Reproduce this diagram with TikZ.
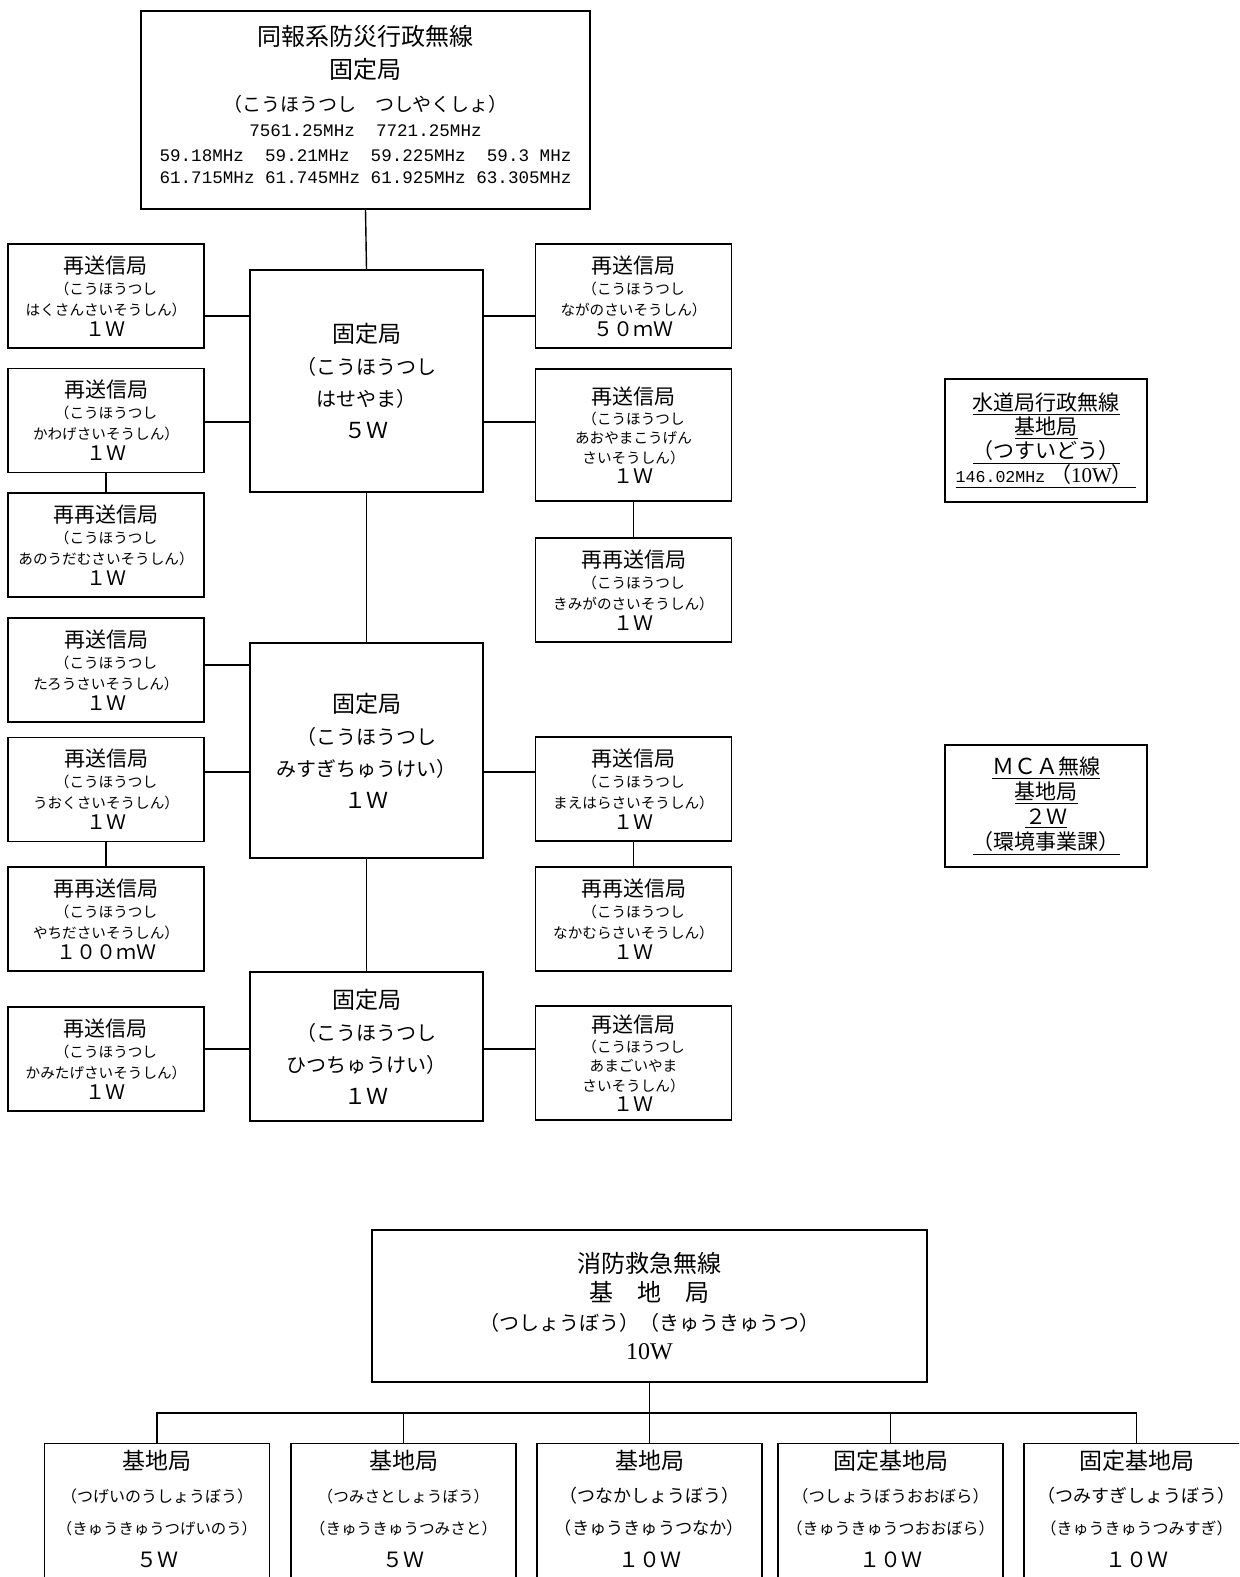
\documentclass[tikz,border=0pt]{standalone}
\usepackage{fontspec}
\setmainfont{Liberation Serif}
\newfontfamily\jp{Noto Sans CJK JP}
\newfontfamily\mono{Liberation Mono}
\usetikzlibrary{positioning, calc}

\newcommand{\fs}[1]{\fontsize{#1}{#1}\selectfont}
\newcommand{\ttl}[1]{{\fs{10.5}#1}}
\newcommand{\pw}[1]{{\fs{10}#1}}

\tikzset{
  stn/.style={draw, line width=0.7pt, align=center, inner sep=0pt},
  relay/.style={stn, minimum width=98pt, minimum height=52pt, font=\jp\fontsize{7.3}{10.5}\selectfont},
  relayfive/.style={relay, font=\jp\fontsize{7.3}{9.8}\selectfont},
  hub/.style={stn, minimum width=116.5pt, font=\jp\fontsize{10}{16}\selectfont},
  ubox/.style={stn, minimum width=101pt, minimum height=61.5pt, font=\jp\fontsize{10.5}{12}\selectfont},
  fbox/.style={stn, minimum width=112.5pt, minimum height=90pt, anchor=north},
  ftext/.style={align=center, inner sep=0pt, font=\jp\fontsize{8}{16.3}\selectfont},
  link/.style={line width=0.7pt},
}

\begin{document}
\begin{tikzpicture}[x=0.5pt, y=-0.5pt]
\useasboundingbox (0,0) rectangle (1239,1577);
\clip (0,0) rectangle (1239,1577);
\fill[white] (0,0) rectangle (1239,1577);

% --- 同報系 ---
\node[stn, minimum width=224.5pt, minimum height=99pt, font=\jp\fontsize{9.5}{12.5}\selectfont] (doho) at (365.5,110)
  {{\fs{12}同報系防災行政無線}\\[4pt]
   {\fs{12}固定局}\\[4pt]
   （こうほうつし　つしやくしょ）\\
   {\mono\fs{8.8}7561.25MHz\ \ 7721.25MHz}\\
   {\mono\fs{8.8}59.18MHz\ \ 59.21MHz\ \ 59.225MHz\ \ 59.3 MHz}\\[-1.5pt]
   {\mono\fs{8.8}61.715MHz 61.745MHz 61.925MHz 63.305MHz}\\[-6.5pt]\mbox{}};

\node[hub, minimum height=111pt] (hasse) at (366.5,381)
  {{\fs{11.5}固定局}\\（こうほうつし\\はせやま）\\{\fs{11}５Ｗ}};
\node[hub, minimum height=107.5pt] (misugi) at (366.5,750.5)
  {{\fs{11.5}固定局}\\（こうほうつし\\みすぎちゅうけい）\\{\fs{11}１Ｗ}};
\node[hub, minimum height=74.5pt] (hitsu) at (366.5,1046.5)
  {{\fs{11.5}固定局}\\（こうほうつし\\ひつちゅうけい）\\{\fs{11}１Ｗ}};

% left column
\node[relay] (hakusan) at (106,296) {\ttl{再送信局}\\（こうほうつし\\はくさんさいそうしん）\\\pw{１Ｗ}};
\node[relay] (kawage) at (106,420.5) {\ttl{再送信局}\\（こうほうつし\\かわげさいそうしん）\\\pw{１Ｗ}};
\node[relay] (anouda) at (106,545) {\ttl{再再送信局}\\（こうほうつし\\あのうだむさいそうしん）\\\pw{１Ｗ}};
\node[relay] (tarou) at (106,670) {\ttl{再送信局}\\（こうほうつし\\たろうさいそうしん）\\\pw{１Ｗ}};
\node[relay] (uoku) at (106,789.5) {\ttl{再送信局}\\（こうほうつし\\うおくさいそうしん）\\\pw{１Ｗ}};
\node[relay] (yachida) at (106,919) {\ttl{再再送信局}\\（こうほうつし\\やちださいそうしん）\\\pw{１００ｍＷ}};
\node[relay] (kamitage) at (106,1059) {\ttl{再送信局}\\（こうほうつし\\かみたげさいそうしん）\\\pw{１Ｗ}};

% right column
\node[relay] (nagano) at (633.5,296) {\ttl{再送信局}\\（こうほうつし\\ながのさいそうしん）\\\pw{５０ｍＷ}};
\node[relayfive, minimum height=66pt] (aoyama) at (633.5,435) {\ttl{再送信局}\\（こうほうつし\\あおやまこうげん\\さいそうしん）\\\pw{１Ｗ}};
\node[relay] (kimigano) at (633.5,590) {\ttl{再再送信局}\\（こうほうつし\\きみがのさいそうしん）\\\pw{１Ｗ}};
\node[relay] (maehara) at (633.5,789) {\ttl{再送信局}\\（こうほうつし\\まえはらさいそうしん）\\\pw{１Ｗ}};
\node[relay] (nakamura) at (633.5,919) {\ttl{再再送信局}\\（こうほうつし\\なかむらさいそうしん）\\\pw{１Ｗ}};
\node[relayfive, minimum height=57pt] (amagoi) at (633.5,1063) {\ttl{再送信局}\\（こうほうつし\\あまごいやま\\さいそうしん）\\\pw{１Ｗ}};

% connector levels
\coordinate (l1) at (0,316);
\coordinate (l2) at (0,422);
\coordinate (l3) at (0,665);
\coordinate (l4) at (0,772);
\coordinate (l5) at (0,1049);

\draw[link] (doho.south) -- (hasse.north);
\draw[link] (hasse.south) -- (misugi.north);
\draw[link] (misugi.south) -- (hitsu.north);
\draw[link] (hakusan.east |- l1) -- (hasse.west |- l1);
\draw[link] (kawage.east |- l2) -- (hasse.west |- l2);
\draw[link] (nagano.west |- l1) -- (hasse.east |- l1);
\draw[link] (aoyama.west |- l2) -- (hasse.east |- l2);
\draw[link] (kawage.south) -- (anouda.north);
\draw[link] (aoyama.south) -- (kimigano.north);
\draw[link] (tarou.east |- l3) -- (misugi.west |- l3);
\draw[link] (uoku.east |- l4) -- (misugi.west |- l4);
\draw[link] (maehara.west |- l4) -- (misugi.east |- l4);
\draw[link] (uoku.south) -- (yachida.north);
\draw[link] (maehara.south) -- (nakamura.north);
\draw[link] (kamitage.east |- l5) -- (hitsu.west |- l5);
\draw[link] (amagoi.west |- l5) -- (hitsu.east |- l5);

% 水道局, MCA
\node[ubox] (suidou) at (1046,440.5)
  {\underline{水道局行政無線}\\\underline{基地局}\\\underline{（つすいどう）}\\
   \underline{{\mono\fs{8.3}146.02MHz} （{\rmfamily 10W}）\,}};
\node[ubox, minimum height=61pt, font=\jp\fontsize{10.5}{12.6}\selectfont] (mca) at (1046,806)
  {\underline{{\fs{11}ＭＣＡ}無線}\\\underline{基地局}\\\underline{２Ｗ}\\\underline{（環境事業課）}};

% --- 消防救急 ---
\node[stn, minimum width=277.5pt, minimum height=76pt, font=\jp\fontsize{10}{14.5}\selectfont] (shobo) at (649.5,1306)
  {{\fs{12}消防救急無線}\\{\fs{12}基　地　局}\\（つしょうぼう）（きゅうきゅうつ）\\{\rmfamily\fs{12}10W}};

\node[fbox] (f1) at (157,1443) {};
\node[fbox] (f2) at (403.5,1443) {};
\node[fbox] (f3) at (649.5,1443) {};
\node[fbox] (f4) at (890.5,1443) {};
\node[fbox] (f5) at (1136.5,1443) {};

\node[ftext, below=3.5pt of f1.north] (f1t)
  {{\fs{11.5}基地局}\\（つげいのうしょうぼう）\\{\fs{7.7}（きゅうきゅうつげいのう）}\\{\fs{10.5}５Ｗ}};
\node[ftext, below=3.5pt of f2.north] (f2t)
  {{\fs{11.5}基地局}\\{\fs{7.8}（つみさとしょうぼう）}\\{\fs{7.8}（きゅうきゅうつみさと）}\\{\fs{10.5}５Ｗ}};
\node[ftext, below=3.5pt of f3.north] (f3t)
  {{\fs{11.5}基地局}\\{\fs{9}（つなかしょうぼう）}\\{\fs{8.6}（きゅうきゅうつなか）}\\{\fs{10.5}１０Ｗ}};
\node[ftext, below=3.5pt of f4.north] (f4t)
  {{\fs{11.5}固定基地局}\\{\fs{8.2}（つしょうぼうおおぼら）}\\（きゅうきゅうつおおぼら）\\{\fs{10.5}１０Ｗ}};
\node[ftext, below=3.5pt of f5.north] (f5t)
  {{\fs{11.5}固定基地局}\\{\fs{9}（つみすぎしょうぼう）}\\（きゅうきゅうつみすぎ）\\{\fs{10.5}１０Ｗ}};

\coordinate (bus) at (0,1413);
\draw[link] (shobo.south) -- (shobo.south |- bus);
\draw[link] (f1.north) -- (f1.north |- bus) -- (f5.north |- bus) -- (f5.north);
\foreach \b in {f2,f3,f4}
  \draw[link] (\b.north) -- (\b.north |- bus);
\end{tikzpicture}
\end{document}
